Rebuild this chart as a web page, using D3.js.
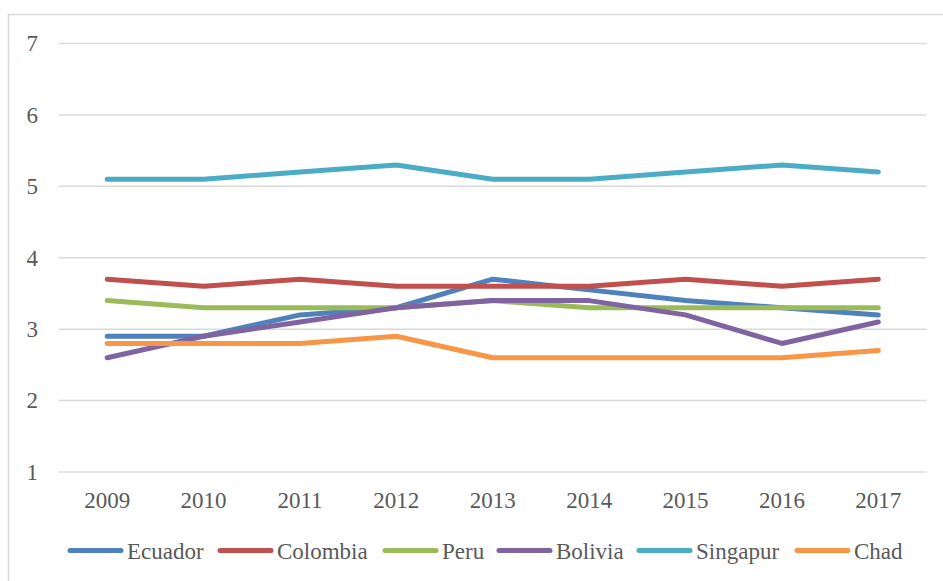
<!DOCTYPE html>
<html>
<head>
<meta charset="utf-8">
<script src="https://cdn.jsdelivr.net/npm/d3@7"></script>
<style>
  html, body { margin: 0; padding: 0; background: #fff; }
  svg { display: block; }
</style>
</head>
<body>
<svg id="chart" width="943" height="581" font-family="Liberation Serif, Times New Roman, serif"></svg>
<script>
const years = ["2009","2010","2011","2012","2013","2014","2015","2016","2017"];
const yTicks = [1,2,3,4,5,6,7];
const seriesNames = ["Ecuador","Colombia","Peru","Bolivia","Singapur","Chad"];
const seriesColors = ["#4F81BD","#C0504D","#9BBB59","#8064A2","#4BACC6","#F79646"];
const ecuador  = [2.9, 2.9, 3.2, 3.3, 3.7, 3.55, 3.4, 3.3, 3.2];
const colombia = [3.7, 3.6, 3.7, 3.6, 3.6, 3.6, 3.7, 3.6, 3.7];
const peru     = [3.4, 3.3, 3.3, 3.3, 3.4, 3.3, 3.3, 3.3, 3.3];
const bolivia  = [2.6, 2.9, 3.1, 3.3, 3.4, 3.4, 3.2, 2.8, 3.1];
const singapur = [5.1, 5.1, 5.2, 5.3, 5.1, 5.1, 5.2, 5.3, 5.2];
const chad     = [2.8, 2.8, 2.8, 2.9, 2.6, 2.6, 2.6, 2.6, 2.7];
const seriesValues = [ecuador, colombia, peru, bolivia, singapur, chad];

(function () {
const svg = d3.select("#chart");
const textColor = "#595959";
const gridColor = "#D9D9D9";
const fam = "Liberation Serif, Times New Roman, serif";

svg.append("rect")
  .attr("x", 8.5).attr("y", 14.5)
  .attr("width", 945).attr("height", 580)
  .attr("fill", "#fff").attr("stroke", gridColor).attr("stroke-width", 1.5);

const pLeft = 59, pRight = 926.5, pTop = 43.5, pBottom = 472;

const x = d3.scaleBand().domain(years).range([pLeft, pRight]).padding(0);
const y = d3.scaleLinear().domain([1, 7]).range([pBottom, pTop]);

svg.append("g").selectAll("line").data(yTicks).join("line")
  .attr("x1", pLeft).attr("x2", pRight)
  .attr("y1", d => y(d)).attr("y2", d => y(d))
  .attr("stroke", gridColor).attr("stroke-width", 1.5);

const yAxis = d3.axisLeft(y).tickValues(yTicks).tickSize(0).tickPadding(0).tickFormat(d3.format("d"));
const gy = svg.append("g").attr("transform", "translate(38,0)").call(yAxis);
gy.select(".domain").remove();
gy.attr("font-family", fam).attr("font-size", 23);
gy.selectAll("text").attr("fill", textColor).attr("dy", "0.32em");

const xAxis = d3.axisBottom(x).tickSize(0).tickPadding(0);
const gx = svg.append("g").attr("transform", `translate(0,${pBottom + 20})`).call(xAxis);
gx.select(".domain").remove();
gx.attr("font-family", fam).attr("font-size", 23);
gx.selectAll("text").attr("fill", textColor).attr("dy", "0.71em");

const line = d3.line()
  .x((d, i) => x(years[i]) + x.bandwidth() / 2)
  .y(d => y(d));

svg.append("g").selectAll("path").data(seriesValues).join("path")
  .attr("d", d => line(d))
  .attr("fill", "none")
  .attr("stroke", (d, i) => seriesColors[i])
  .attr("stroke-width", 5)
  .attr("stroke-linecap", "round")
  .attr("stroke-linejoin", "round");

const legendX = [68, 218, 383, 497, 637, 795];
const legendY = 550.5;
const lg = svg.append("g").attr("font-family", fam).attr("font-size", 23);
seriesNames.forEach((name, i) => {
  lg.append("line")
    .attr("x1", legendX[i] + 2).attr("x2", legendX[i] + 53)
    .attr("y1", legendY).attr("y2", legendY)
    .attr("stroke", seriesColors[i]).attr("stroke-width", 5)
    .attr("stroke-linecap", "round");
  lg.append("text")
    .attr("x", legendX[i] + 59).attr("y", legendY)
    .attr("dy", "0.35em")
    .attr("fill", textColor)
    .text(name);
});
})();
</script>
</body>
</html>
